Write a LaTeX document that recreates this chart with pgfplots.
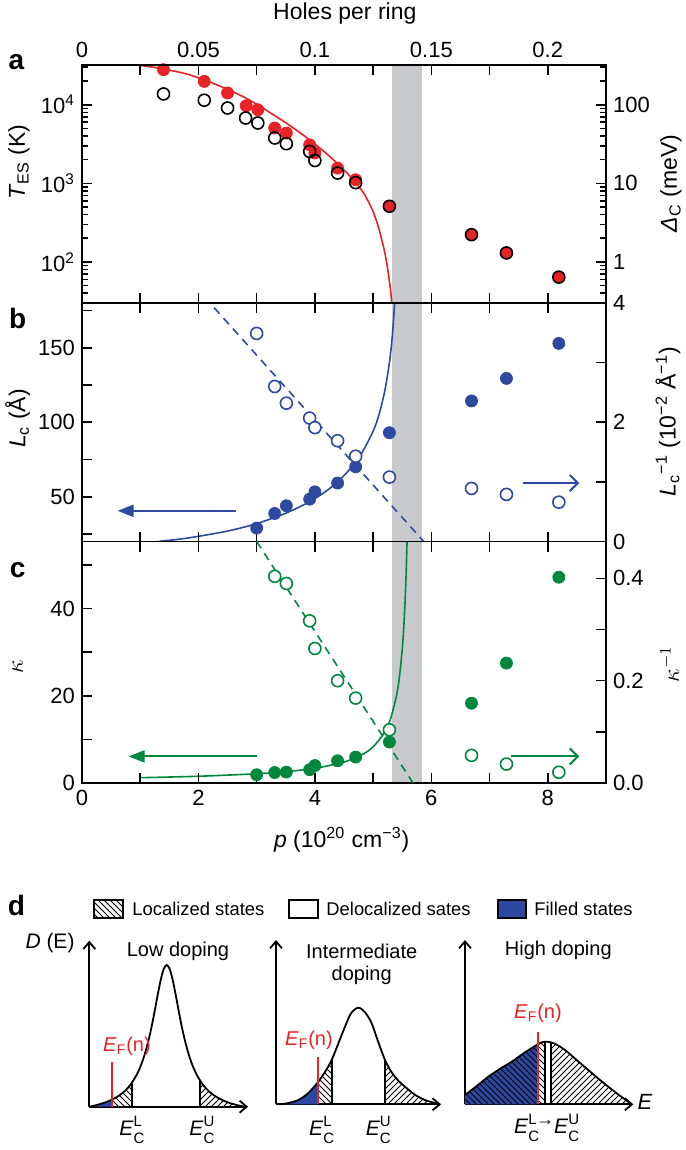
\documentclass[border=0pt]{standalone}
\usepackage{fontspec}
\setmainfont{Liberation Sans}
\usepackage{pgfplots}
\usepackage{pgfplotstable}
\pgfplotsset{compat=1.18}
\usepgfplotslibrary{fillbetween}
\usetikzlibrary{arrows.meta,patterns}

\definecolor{cred}{RGB}{232,35,40}
\definecolor{cblue}{RGB}{46,74,160}
\definecolor{cgreen}{RGB}{0,135,62}
\definecolor{cband}{RGB}{200,201,204}
\definecolor{fillblue}{RGB}{44,72,160}

\newcommand{\EC}[1]{\textit{E}\makebox[0pt][l]{\raisebox{0.8ex}{\fontsize{7.5}{8}\selectfont #1}}\raisebox{-0.7ex}{\fontsize{7.5}{8}\selectfont C}}

\pgfplotstableread{
x y
0 0
7.4 1.7
17.4 4.8
27.4 9.6
35.4 15.6
41.4 22.3
47.4 32.0
51.4 40.8
55.4 52.3
59.4 67.1
62.4 80.5
65.4 95.8
68.4 111.9
71.4 126.7
74.4 137.7
77.4 141.7
80.4 137.7
83.4 126.7
86.4 111.9
89.4 95.8
92.4 80.5
95.4 67.1
99.4 52.3
103.4 40.8
107.4 32.0
113.4 22.3
119.4 15.6
127.4 9.6
137.4 4.8
147.4 1.7
155.4 0
}\curveA

\pgfplotstableread{
x y
4 0
12 1.2
22.3 4.3
32 11
42.3 22.6
50 34
55.7 44.3
62 60
69 77.6
75 91
82.3 96.6
89 92
95.7 81
102 63
109 44.3
115 33
122 24
129 17.6
139 9.5
149 4.3
159 1.3
164 0
}\curveB

\pgfplotstableread{
x y
0 9.3
12 18.5
23.3 27.6
35 35.5
46.7 42.6
60 52
71.7 59.3
77 62
82.7 62.6
90 60.5
100 54.3
112 44
123.3 34.3
133 26
143.3 17.6
153 10
163.3 2.6
166.5 0
}\curveC

\pgfplotsset{
  mainpanel/.style={
    scale only axis, width=262pt, xmin=0, xmax=9,
    anchor=south west,
    axis line style={line width=0.8pt},
    tick style={black, line width=0.8pt},
    tick align=inside,
    major tick length=5pt, minor tick length=3pt,
    tick label style={font=\fontsize{11}{13}\selectfont},
    /pgf/number format/assume math mode=true,
    axis on top,
  },
  dpanel/.style={
    scale only axis, anchor=south west, xmin=0, ymin=0,
    axis lines=left, xtick=\empty, ytick=\empty,
    enlargelimits=false, clip=false,
    axis line style={line width=0.9pt, -{Straight Barb[length=3.5pt,width=6pt]}},
    every outer x axis line/.append style={-{Straight Barb[length=3.5pt,width=6pt]}},
    every outer y axis line/.append style={-{Straight Barb[length=3.5pt,width=6pt]}},
  },
}

\begin{document}
\begin{tikzpicture}

% ---------------- panel a ----------------
\begin{axis}[mainpanel, at={(41pt,-151.5pt)}, height=119pt,
  ymode=log, ymin=30, ymax=32000,
  xtick={1,...,8}, xticklabel=\empty, xtick pos=both,
  ytick={100,1000,10000},
  yticklabels={10\textsuperscript{2},10\textsuperscript{3},10\textsuperscript{4}},
  minor ytick={40,50,60,70,80,90,200,300,400,500,600,700,800,900,2000,3000,4000,5000,6000,7000,8000,9000,20000,30000},
  ytick pos=left]
\addplot[fill=cband, draw=none] coordinates {(5.32,30) (5.84,30) (5.84,32000) (5.32,32000)} -- cycle;
\addplot[cred, line width=0.8pt, smooth] coordinates {
(0.99,31700) (1.4,28510) (1.8,24550) (2.1,20650) (2.5,15670) (2.8,12300) (3.0,10120) (3.25,7760) (3.5,5890) (3.75,4370) (4.0,3160) (4.25,2210) (4.5,1480) (4.7,1023) (4.85,724) (5.0,437) (5.1,263) (5.2,132) (5.26,72.4) (5.3,43.6) (5.32,30.2)};
\addplot[only marks, mark=*, mark size=3pt, mark options={fill=cred, draw=cred}] coordinates {
(1.40,27900) (2.10,19800) (2.50,14100) (2.82,9700) (3.02,8630) (3.31,5050) (3.51,4360) (3.91,3090) (4.00,2430) (4.39,1560) (4.70,1110)};
\addplot[only marks, mark=o, mark size=3pt, mark options={draw=black, line width=0.8pt}] coordinates {
(1.40,13700) (2.10,11400) (2.50,9080) (2.81,6770) (3.02,5850) (3.31,3770) (3.51,3190) (3.91,2540) (4.00,1950) (4.39,1350) (4.70,1020)};
\addplot[only marks, mark=*, mark size=3pt, mark options={fill=cred, draw=black, line width=0.8pt}] coordinates {
(5.28,510) (6.69,222) (7.29,130) (8.19,64)};
\end{axis}
\begin{axis}[mainpanel, at={(41pt,-151.5pt)}, height=119pt,
  xmin=0, xmax=0.225, ymode=log, ymin=0.3, ymax=320,
  xtick={0,0.05,0.1,0.15,0.2}, xticklabels={0,0.05,0.1,0.15,0.2},
  xtick pos=right, xticklabel pos=right,
  ytick={1,10,100}, yticklabels={1,10,100},
  minor ytick={0.4,0.5,0.6,0.7,0.8,0.9,2,3,4,5,6,7,8,9,20,30,40,50,60,70,80,90,200,300},
  ytick pos=right, yticklabel pos=right]
\end{axis}

% ---------------- panel b ----------------
\begin{axis}[mainpanel, at={(41pt,-270.75pt)}, height=119.25pt,
  ymin=20, ymax=180,
  xtick={1,...,8}, xticklabel=\empty, xtick pos=both,
  ytick={25,50,75,100,125,150,175}, yticklabels={,50,,100,,150,},
  ytick pos=left]
\addplot[fill=cband, draw=none] coordinates {(5.32,20) (5.84,20) (5.84,180) (5.32,180)} -- cycle;
\addplot[cblue, line width=0.8pt, smooth] coordinates {
(1.31,20) (1.7,21.7) (2.0,23.5) (2.5,27) (3.0,32) (3.5,39) (3.9,46.5) (4.2,54) (4.4,60.5) (4.6,68.5) (4.8,79) (5.0,94) (5.1,105) (5.2,121) (5.28,140) (5.33,158) (5.37,180)};
\addplot[only marks, mark=*, mark size=3pt, mark options={fill=cblue, draw=cblue}] coordinates {
(3.00,29.0) (3.31,38.8) (3.51,44.0) (3.91,48.4) (4.00,53.3) (4.39,59.2) (4.70,70.1) (5.28,93.0) (6.69,114.3) (7.29,129.4) (8.19,152.9)};
\addplot[cblue, line width=1pt, -{Triangle[length=8pt,width=6pt]}] coordinates {(2.65,40.6) (0.61,40.6)};
\end{axis}
\begin{axis}[mainpanel, at={(41pt,-270.75pt)}, height=119.25pt,
  ymin=0, ymax=4, hide x axis,
  ytick={0,1,2,3,4}, yticklabels={0,,2,,4},
  ytick pos=right, yticklabel pos=right]
\addplot[cblue, line width=0.8pt, dash pattern=on 4pt off 3pt] coordinates {(2.27,3.92) (5.87,0)};
\addplot[only marks, mark=*, mark size=3pt, mark options={fill=white, draw=cblue, line width=0.8pt}] coordinates {
(3.00,3.49) (3.31,2.60) (3.51,2.32) (3.91,2.07) (4.00,1.91) (4.39,1.69) (4.70,1.43) (5.28,1.08) (6.69,0.89) (7.29,0.79) (8.19,0.66)};
\addplot[cblue, line width=1pt, -{Straight Barb[length=4pt,width=8pt]}] coordinates {(7.57,0.98) (8.54,0.98)};
\end{axis}

% ---------------- panel c ----------------
\begin{axis}[mainpanel, at={(41pt,-391.5pt)}, height=120.75pt,
  ymin=0, ymax=55.39,
  xtick={0,1,...,8}, xticklabels={0,,2,,4,,6,,8}, xtick pos=both, xticklabel pos=left,
  ytick={0,10,20,30,40,50}, yticklabels={0,,20,,40,},
  ytick pos=left]
\addplot[fill=cband, draw=none] coordinates {(5.32,0) (5.84,0) (5.84,55.39) (5.32,55.39)} -- cycle;
\addplot[cgreen, line width=0.8pt, smooth] coordinates {
(1.0,1.22) (2.0,1.55) (3.0,2.12) (3.5,2.61) (4.0,3.38) (4.5,4.80) (4.8,6.43) (5.0,8.30) (5.2,11.72) (5.3,14.75) (5.4,19.91) (5.45,24.13) (5.5,30.62) (5.53,36.5) (5.56,45.2) (5.583,55.3)};
\addplot[only marks, mark=*, mark size=3pt, mark options={fill=cgreen, draw=cgreen}] coordinates {
(3.00,1.9) (3.31,2.4) (3.51,2.5) (3.91,3.05) (4.00,4.0) (4.39,5.1) (4.70,5.95) (5.28,9.4) (6.69,18.3) (7.29,27.5) (8.19,47.2)};
\addplot[cgreen, line width=1pt, -{Triangle[length=8pt,width=6pt]}] coordinates {(3.0,6.1) (0.80,6.1)};
\addplot[cgreen, line width=1pt, -{Straight Barb[length=4pt,width=8pt]}] coordinates {(7.37,6.1) (8.54,6.1)};
\end{axis}
\begin{axis}[mainpanel, at={(41pt,-391.5pt)}, height=120.75pt,
  ymin=0, ymax=0.4721, hide x axis,
  ytick={0,0.1,0.2,0.3,0.4}, yticklabels={0.0,,0.2,,0.4},
  ytick pos=right, yticklabel pos=right]
\addplot[cgreen, line width=0.8pt, dash pattern=on 4pt off 3pt] coordinates {(3.0,0.4721) (5.686,0)};
\addplot[only marks, mark=*, mark size=3pt, mark options={fill=white, draw=cgreen, line width=0.8pt}] coordinates {
(3.31,0.404) (3.51,0.390) (3.91,0.317) (4.00,0.263) (4.39,0.200) (4.70,0.166) (5.28,0.104) (6.69,0.054) (7.29,0.037) (8.19,0.021)};
\end{axis}

% axis labels and panel letters
\node[font=\fontsize{11.5}{13}\selectfont] at (172.4pt,-7pt) {Holes per ring};
\node[font=\fontsize{11.5}{13}\selectfont] at (170.85pt,-420pt) {\textit{p} (10\textsuperscript{20} cm\textsuperscript{−3})};
\node[font=\fontsize{11.5}{13}\selectfont, rotate=90] at (9.5pt,-81pt) {\textit{T}\textsubscript{ES} (K)};
\node[font=\fontsize{11.5}{13}\selectfont, rotate=90] at (335.5pt,-91.75pt) {\textit{Δ}\textsubscript{C} (meV)};
\node[font=\fontsize{11.5}{13}\selectfont, rotate=90] at (8.8pt,-209.25pt) {\textit{L}\textsubscript{c} (Å)};
\node[font=\fontsize{11.5}{13}\selectfont, rotate=90] at (334pt,-210.85pt) {\textit{L}\textsubscript{c}\textsuperscript{−1} (10\textsuperscript{−2} Å\textsuperscript{−1})};
\node[font=\fontsize{12}{13}\selectfont, rotate=90] at (8.8pt,-333.35pt) {$\kappa$};
\node[font=\fontsize{12}{13}\selectfont, rotate=90] at (334.85pt,-332pt) {$\kappa^{-1}$};
\node[font=\fontsize{14}{16}\selectfont\bfseries] at (8.2pt,-31.25pt) {a};
\node[font=\fontsize{14}{16}\selectfont\bfseries] at (8.8pt,-159.2pt) {b};
\node[font=\fontsize{14}{16}\selectfont\bfseries] at (8.8pt,-285pt) {c};
\node[font=\fontsize{14}{16}\selectfont\bfseries] at (8.2pt,-452.5pt) {d};

% ---------------- panel d legend ----------------
\draw[pattern=north west lines, line width=0.6pt] (47pt,-450pt) rectangle (61.5pt,-459pt);
\node[anchor=west, inner sep=0pt, font=\fontsize{9.2}{11}\selectfont] at (66pt,-454.5pt) {Localized states};
\draw[line width=0.6pt] (144.5pt,-450pt) rectangle (159pt,-459pt);
\node[anchor=west, inner sep=0pt, font=\fontsize{9.2}{11}\selectfont] at (163pt,-454.5pt) {Delocalized sates};
\draw[fill=fillblue, line width=0.6pt] (249pt,-450pt) rectangle (263pt,-459pt);
\node[anchor=west, inner sep=0pt, font=\fontsize{9.2}{11}\selectfont] at (267pt,-454.5pt) {Filled states};

% ---------------- panel d: low doping ----------------
\begin{axis}[dpanel, at={(44.65pt,-553.35pt)}, width=79.35pt, height=83pt, xmax=158.7, ymax=166]
\addplot[name path=cA, draw=none, smooth] table {\curveA};
\addplot[name path=bA, draw=none] coordinates {(0,0) (160,0)};
\addplot[fillblue] fill between[of=cA and bA, soft clip={domain=0:22.4}];
\addplot[pattern=north west lines] fill between[of=cA and bA, soft clip={domain=22.4:42.4}];
\addplot[pattern=north east lines] fill between[of=cA and bA, soft clip={domain=110.7:158}];
\addplot[black, line width=0.9pt, smooth] table {\curveA};
\addplot[black, line width=0.9pt] coordinates {(42.4,0) (42.4,23.9)};
\addplot[black, line width=0.9pt] coordinates {(110.7,0) (110.7,26.7)};
\addplot[cred, line width=0.9pt] coordinates {(22.4,0) (22.4,45)};
\end{axis}

% ---------------- panel d: intermediate doping ----------------
\begin{axis}[dpanel, at={(138pt,-552.15pt)}, width=82.5pt, height=82.15pt, xmax=165, ymax=164.3]
\addplot[name path=cB, draw=none, smooth] table {\curveB};
\addplot[name path=bB, draw=none] coordinates {(0,0) (166,0)};
\addplot[fillblue] fill between[of=cB and bB, soft clip={domain=0:42.3}];
\addplot[pattern=north west lines] fill between[of=cB and bB, soft clip={domain=42.3:55.7}];
\addplot[pattern=north east lines] fill between[of=cB and bB, soft clip={domain=109:165}];
\addplot[black, line width=0.9pt, smooth] table {\curveB};
\addplot[black, line width=0.9pt] coordinates {(55.7,0) (55.7,44.3)};
\addplot[black, line width=0.9pt] coordinates {(109,0) (109,44.3)};
\addplot[cred, line width=0.9pt] coordinates {(42.3,0) (42.3,47.7)};
\end{axis}

% ---------------- panel d: high doping ----------------
\begin{axis}[dpanel, at={(232.5pt,-552.15pt)}, width=84.15pt, height=82.15pt, xmax=168.3, ymax=164.3]
\addplot[fill=fillblue, draw=none] coordinates {(0,0) (0,9.3) (12,18.5) (23.3,27.6) (35,35.5) (46.7,42.6) (60,52) (71.7,59.3) (72.7,59.8) (72.7,0)} -- cycle;
\addplot[pattern=north west lines, draw=none] coordinates {(0,0) (0,9.3) (12,18.5) (23.3,27.6) (35,35.5) (46.7,42.6) (60,52) (71.7,59.3) (77,62) (80,62.3) (80,0)} -- cycle;
\addplot[pattern=north east lines, draw=none] coordinates {(86,0) (86,61.7) (90,60.5) (100,54.3) (112,44) (123.3,34.3) (133,26) (143.3,17.6) (153,10) (163.3,2.6) (166.5,0)} -- cycle;
\addplot[black, line width=0.9pt, smooth] table {\curveC};
\addplot[black, line width=1.1pt] coordinates {(80,0) (80,62.3)};
\addplot[black, line width=1.1pt] coordinates {(86,0) (86,61.7)};
\addplot[cred, line width=0.9pt] coordinates {(72.7,0) (72.7,72.6)};
\end{axis}

% panel d texts
\node[font=\fontsize{10.5}{12}\selectfont] at (25pt,-471.5pt) {\textit{D} (E)};
\node[font=\fontsize{10}{12}\selectfont] at (89pt,-475.85pt) {Low doping};
\node[font=\fontsize{10}{12}\selectfont] at (180.85pt,-475.85pt) {Intermediate};
\node[font=\fontsize{10}{12}\selectfont] at (180.85pt,-487.5pt) {doping};
\node[font=\fontsize{10}{12}\selectfont] at (279.15pt,-475pt) {High doping};
\node[font=\fontsize{10}{12}\selectfont, text=cred] at (63.5pt,-523pt) {\textit{E}\textsubscript{F}(n)};
\node[font=\fontsize{10}{12}\selectfont, text=cred] at (154.5pt,-520pt) {\textit{E}\textsubscript{F}(n)};
\node[font=\fontsize{10}{12}\selectfont, text=cred] at (269pt,-506.65pt) {\textit{E}\textsubscript{F}(n)};
\node[font=\fontsize{10.5}{12}\selectfont] at (66pt,-565pt) {\EC{L}};
\node[font=\fontsize{10.5}{12}\selectfont] at (101pt,-565pt) {\EC{U}};
\node[font=\fontsize{10.5}{12}\selectfont] at (160.85pt,-565pt) {\EC{L}};
\node[font=\fontsize{10.5}{12}\selectfont] at (189.15pt,-565pt) {\EC{U}};
\node[font=\fontsize{10.5}{12}\selectfont] at (273.35pt,-564pt) {\EC{L}\hspace{-1.5pt}\raisebox{0.7ex}{\fontsize{9}{9}\selectfont →}\EC{U}};
\node[font=\fontsize{11}{12}\selectfont] at (322.5pt,-550.85pt) {\textit{E}};

\pgfresetboundingbox
\useasboundingbox (0,0) rectangle (342.5pt,-575pt);
\end{tikzpicture}
\end{document}
